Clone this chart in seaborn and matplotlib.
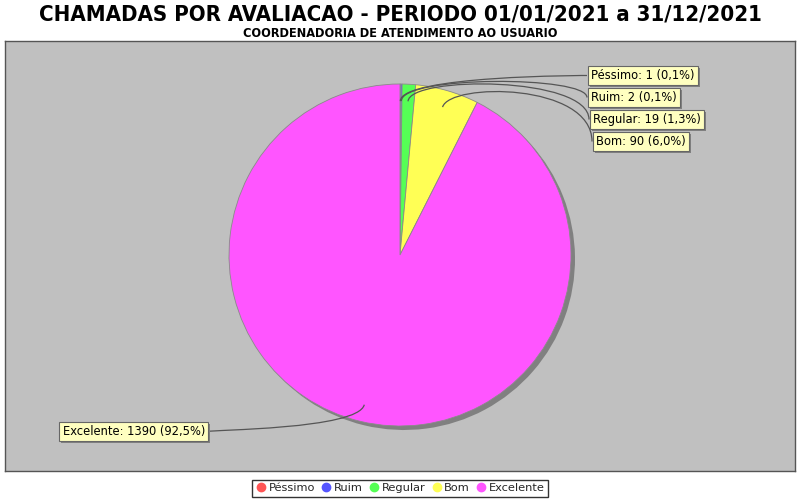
import numpy as np
import matplotlib
matplotlib.use('Agg')
import matplotlib.pyplot as plt
import matplotlib.patheffects as pe
import seaborn as sns
from matplotlib.path import Path
from matplotlib.patches import PathPatch
from matplotlib.lines import Line2D

# dados
categorias = ['Péssimo', 'Ruim', 'Regular', 'Bom', 'Excelente']
chamadas = [1, 2, 19, 90, 1390]
percentuais = ['0,1%', '0,1%', '1,3%', '6,0%', '92,5%']
cores = ['#FF5555', '#5555FF', '#55FF55', '#FFFF55', '#FF55FF']

titulo = 'CHAMADAS POR AVALIACAO - PERIODO 01/01/2021 a 31/12/2021'
subtitulo = 'COORDENADORIA DE ATENDIMENTO AO USUARIO'

# posicao dos rotulos (ponto de ligacao na borda da caixa, em pixels)
rotulo_px = [(587, 75.5), (587, 97.5), (589, 119.5), (592, 141.5), (209, 431.5)]

sns.set_theme(style='white')
plt.rcParams['font.family'] = ['DejaVu Sans']

R = 171.0   # raio da pizza em pixels
cx, cy = 400.0, 255.0

fig = plt.figure(figsize=(8, 5), dpi=100)
fig.patch.set_facecolor('white')
ax = fig.add_axes([5 / 800, 29 / 500, 790 / 800, 430 / 500])

# sombra
ax.pie(chamadas, colors=['#808080'] * 5, startangle=90, counterclock=False,
       center=(4 / R, -4 / R), wedgeprops=dict(linewidth=0))
ax.pie(chamadas, colors=cores, startangle=90, counterclock=False,
       wedgeprops=dict(linewidth=0.6, edgecolor='#8a8a8a'))

ax.set_xlim(-395 / R, 395 / R)
ax.set_ylim(-216 / R, 214 / R)
ax.set_frame_on(True)
ax.set_facecolor('#C0C0C0')
for s in ax.spines.values():
    s.set_visible(True)
    s.set_color('#555555')
    s.set_linewidth(1)

total = sum(chamadas)
acum = np.cumsum([0] + chamadas[:-1])
for i, (cat, v) in enumerate(zip(categorias, chamadas)):
    th = 2 * np.pi * (acum[i] + v / 2) / total
    ux, uy = np.sin(th), np.cos(th)
    p0 = (0.9 * ux, 0.9 * uy)
    p1 = (1.05 * ux, 1.05 * uy)
    lx = (rotulo_px[i][0] - cx) / R
    ly = (cy - rotulo_px[i][1]) / R
    p2 = (lx, p1[1])
    p3 = (lx, ly)
    path = Path([p0, p1, p2, p3], [Path.MOVETO, Path.CURVE4, Path.CURVE4, Path.CURVE4])
    ax.add_patch(PathPatch(path, fill=False, edgecolor='#555555', lw=0.9, zorder=3))
    texto = f'{cat}: {v} ({percentuais[i]})'
    ha = 'left' if lx > 0 else 'right'
    off = 4 / R if lx > 0 else -4 / R
    t = ax.text(lx + off, ly, texto, ha=ha, va='center', fontsize=8.3, color='black',
                zorder=5,
                bbox=dict(boxstyle='square,pad=0.28', facecolor='#FFFFC0',
                          edgecolor='#666666', lw=0.8))
    t.get_bbox_patch().set_path_effects([
        pe.SimplePatchShadow(offset=(1.5, -1.5), shadow_rgbFace='#808080', alpha=1),
        pe.Normal()])

# titulos
fig.text(0.5, 1 - 14 / 500, titulo, ha='center', va='center', fontsize=15.9,
         fontweight='bold', family=['Liberation Sans Narrow', 'DejaVu Sans'],
         fontstretch='condensed', color='black')
fig.text(0.5, 1 - 33 / 500, subtitulo, ha='center', va='center', fontsize=9.1,
         fontweight='bold', family=['Liberation Sans Narrow', 'DejaVu Sans'],
         fontstretch='condensed', color='black')

# legenda
handles = [Line2D([], [], marker='o', linestyle='', markersize=6,
                  markerfacecolor=c, markeredgecolor=c) for c in cores]
leg = fig.legend(handles, categorias, loc='lower center', bbox_to_anchor=(0.5, 0.002),
                 ncol=5, fontsize=8.2, frameon=True, fancybox=False,
                 handletextpad=0.15, columnspacing=0.5, borderpad=0.3,
                 handlelength=1.0, borderaxespad=0.2)
leg.get_frame().set_edgecolor('black')
leg.get_frame().set_linewidth(1)

fig.savefig('out.png', dpi=100)
